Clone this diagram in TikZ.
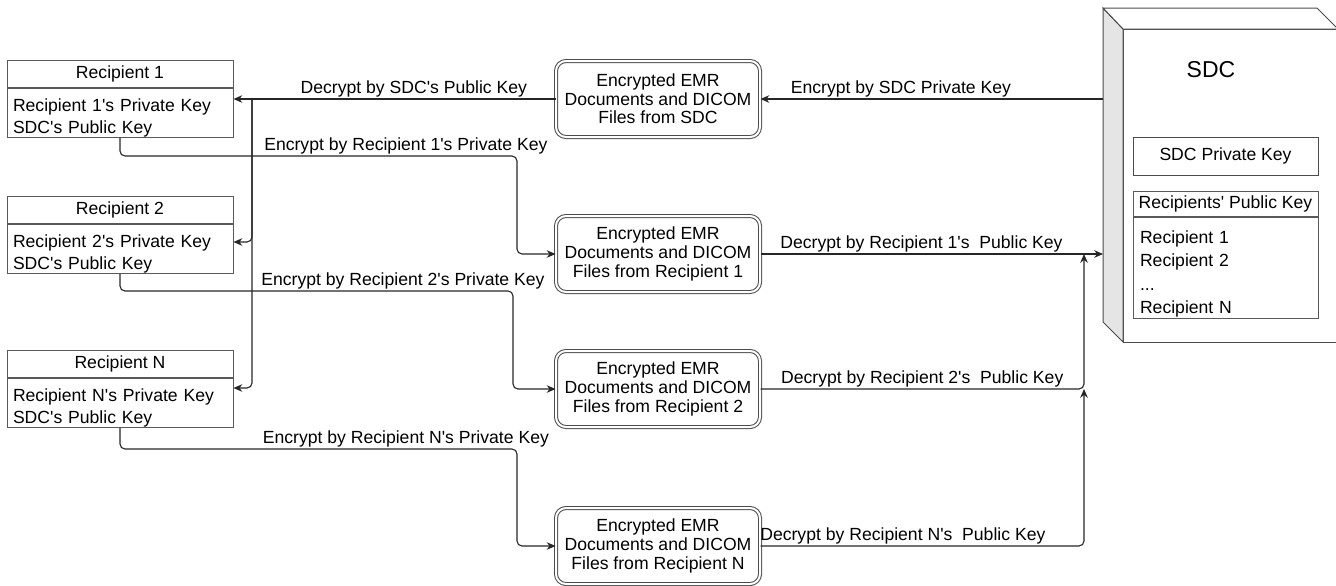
\documentclass[tikz,border=0pt]{standalone}
\usepackage{fontspec}
\setmainfont{Liberation Sans}[Ligatures=TeXOff]
\usetikzlibrary{arrows.meta}
\usetikzlibrary{positioning}
\tikzset{conn/.style={draw=black!85, line width=0.55pt, rounded corners=2.5pt},
  tip/.style={-{Stealth[length=4.4pt,width=3.8pt]}},
  keyhead/.style={draw=black!65, line width=0.5pt, minimum width=113pt, minimum height=13.5pt, inner sep=0pt},
  keybody/.style={draw=black!65, line width=0.5pt, align=left, text width=107pt, inner xsep=3pt, inner ysep=0pt, text height=11.5pt, text depth=13pt},
  encbox/.style={draw=black!70, line width=0.5pt, double, double distance=1pt, rounded corners=5pt, align=center, minimum width=102pt, minimum height=38pt, inner sep=0pt, font=\fontsize{8.8}{9.3}\selectfont},
  lbl/.style={inner sep=0.5pt}}

\begin{document}
\begin{tikzpicture}[x=0.5pt, y=-0.5pt, every node/.style={font=\fontsize{8.8}{11}\selectfont}]
    \useasboundingbox (0,0) rectangle (1336,585);
    \clip (0,0) rectangle (1336,585);

    % the SDC server
    \draw[black!70, line width=0.5pt, fill=white] (1123,29) rectangle (1345,342);
    \draw[black!70, line width=0.5pt, fill=black!10] (1103,8) -- (1123,29) -- (1123,342) -- (1103,322) -- cycle;
    \draw[black!70, line width=0.5pt, fill=white] (1103,8) -- (1317,8) -- (1338,29) -- (1123,29) -- cycle;
    \node[font=\fontsize{11.5}{13}\selectfont] at (1211,70) (sdc) {SDC};
    \node[draw=black!70, line width=0.5pt, minimum width=92.5pt, minimum height=19pt] at (1225.5,156) (sdcpriv) {SDC Private Key};
    \node[keyhead, minimum width=92.5pt, minimum height=12.5pt] at (1225.5,203.5) (pubhead) {Recipients' Public Key};
    \node[keybody, below=0pt of pubhead, text width=85.5pt, inner xsep=3.5pt, text height=13pt, text depth=37.75pt, font=\fontsize{8.8}{11.75}\selectfont] (publist) {Recipient 1\\Recipient 2\\...\\Recipient N};
    \coordinate (sdcout) at (1103,99);
    \coordinate (sdcin) at (1103,254);

    % recipients
    \node[keyhead] at (120,73.5) (rcp1) {Recipient 1};
    \node[keybody, below=0pt of rcp1] (keys1) {Recipient 1's Private Key\\SDC's Public Key};
    \node[keyhead] at (120,210) (rcp2) {Recipient 2};
    \node[keybody, below=0pt of rcp2] (keys2) {Recipient 2's Private Key\\SDC's Public Key};
    \node[keyhead] at (120,363.5) (rcpN) {Recipient N};
    \node[keybody, below=0pt of rcpN] (keysN) {Recipient N's Private Key\\SDC's Public Key};

    % encrypted files
    \node[encbox] at (658,99) (encS) {Encrypted EMR\\Documents and DICOM\\Files from SDC};
    \node[encbox] at (658,254) (enc1) {Encrypted EMR\\Documents and DICOM\\Files from Recipient 1};
    \node[encbox] at (658,389) (enc2) {Encrypted EMR\\Documents and DICOM\\Files from Recipient 2};
    \node[encbox] at (658,546) (encN) {Encrypted EMR\\Documents and DICOM\\Files from Recipient N};

    % SDC -> recipients
    \draw[conn, tip] (sdcout) -- node[lbl, above, pos=0.59] (lsdc) {Encrypt by SDC Private Key} (encS.west -| encS.east);
    \draw[conn, tip] (encS.west) -- node[lbl, above, pos=0.44] (lpub) {Decrypt by SDC's Public Key} (keys1.east |- encS.west);
    \coordinate (bus) at (252,99);
    \draw[conn, tip] (bus) |- (keys2.east |- 0,242);
    \draw[conn, tip] (bus) |- (keysN.east |- 0,388);

    % recipients -> SDC
    \coordinate (turn1) at (517,156);
    \coordinate (turn2) at (513,291);
    \coordinate (turnN) at (517,449);
    \coordinate (up1) at (1084,254);
    \coordinate (up2) at (1084,389);
    \draw[conn, tip] (keys1.south) |- node[lbl, above, pos=0.86] (lenc1) {Encrypt by Recipient 1's Private Key} (turn1) |- (enc1.west);
    \draw[conn, tip] (keys2.south) |- node[lbl, above, pos=0.86] (lenc2) {Encrypt by Recipient 2's Private Key} (turn2) |- (enc2.west);
    \draw[conn, tip] (keysN.south) |- node[lbl, above, pos=0.86] (lencN) {Encrypt by Recipient N's Private Key} (turnN) |- (encN.west);
    \draw[conn, tip] (enc1.east) -- node[lbl, above, pos=0.47] (ldec1) {Decrypt by Recipient 1's\ \ Public Key} (sdcin);
    \draw[conn, tip] (enc2.east) -| node[lbl, above, pos=0.25] (ldec2) {Decrypt by Recipient 2's\ \ Public Key} (up1);
    \draw[conn, tip] (encN.east) -| node[lbl, above, pos=0.22] (ldecN) {Decrypt by Recipient N's\ \ Public Key} (up2);
\end{tikzpicture}
\end{document}
